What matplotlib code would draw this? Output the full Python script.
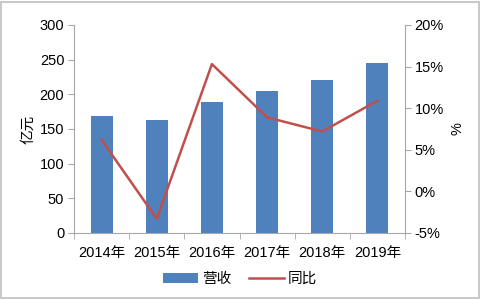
import matplotlib
matplotlib.use('Agg')
import matplotlib.pyplot as plt
from matplotlib.ticker import FuncFormatter
from matplotlib.patches import Rectangle

plt.rcParams['font.family'] = ['Liberation Sans', 'Noto Sans CJK SC', 'DejaVu Sans']

years = ['2014年', '2015年', '2016年', '2017年', '2018年', '2019年']
revenue = [169, 163, 189, 205, 221, 245]
yoy = [6.2, -3.3, 15.3, 8.9, 7.2, 10.9]

BAR = '#4F81BD'
LINE = '#C0504D'
AXIS = '#A6A6A6'
FS = 10.5

fig = plt.figure(figsize=(4.8, 3.0), dpi=100)
ax = fig.add_axes([74 / 480, 1 - 233 / 300, 331 / 480, 208 / 300])
ax2 = ax.twinx()

x = list(range(len(years)))
bars = ax.bar(x, revenue, width=0.4, color=BAR, label='营收', zorder=2)
ax.set_xlim(-0.5, len(years) - 0.5)
ax.set_ylim(0, 300)
ax.set_yticks(range(0, 301, 50))
ax.set_xticks(x)
ax.set_xticklabels(years)
ax.set_xticks([i + 0.5 for i in range(-1, len(years))], minor=True)
ax.tick_params(axis='x', which='major', length=0, pad=9, labelsize=FS)
ax.tick_params(axis='x', which='minor', length=4, color=AXIS, direction='out')
ax.tick_params(axis='y', length=4, color=AXIS, labelsize=FS, pad=3)
ax.set_ylabel('亿元', fontsize=FS, labelpad=3)

line, = ax2.plot(x, yoy, color=LINE, linewidth=1.8, label='同比', zorder=3)
ax2.set_ylim(-5, 20)
ax2.set_yticks(range(-5, 21, 5))
ax2.yaxis.set_major_formatter(FuncFormatter(lambda v, p: f'{v:.0f}%'))
ax2.tick_params(axis='y', length=4, color=AXIS, labelsize=FS, pad=3)
ax2.set_ylabel('%', fontsize=FS, labelpad=5)

for a in (ax, ax2):
    a.spines['top'].set_visible(False)
    for s in ('left', 'right', 'bottom'):
        a.spines[s].set_color(AXIS)
ax.spines['right'].set_visible(False)
ax2.spines['left'].set_visible(False)
ax2.spines['bottom'].set_visible(False)

fig.legend([bars, line], ['营收', '同比'], loc='center', bbox_to_anchor=(0.5, 1 - 279 / 300),
           ncol=2, frameon=False, fontsize=FS, handlelength=2.4, columnspacing=1.2,
           handletextpad=0.3)

fig.patches.append(Rectangle((0.002, 0.008), 0.996, 0.986, transform=fig.transFigure,
                             fill=False, edgecolor='#BFBFBF', linewidth=1.2))

fig.savefig('out.png', dpi=100)
